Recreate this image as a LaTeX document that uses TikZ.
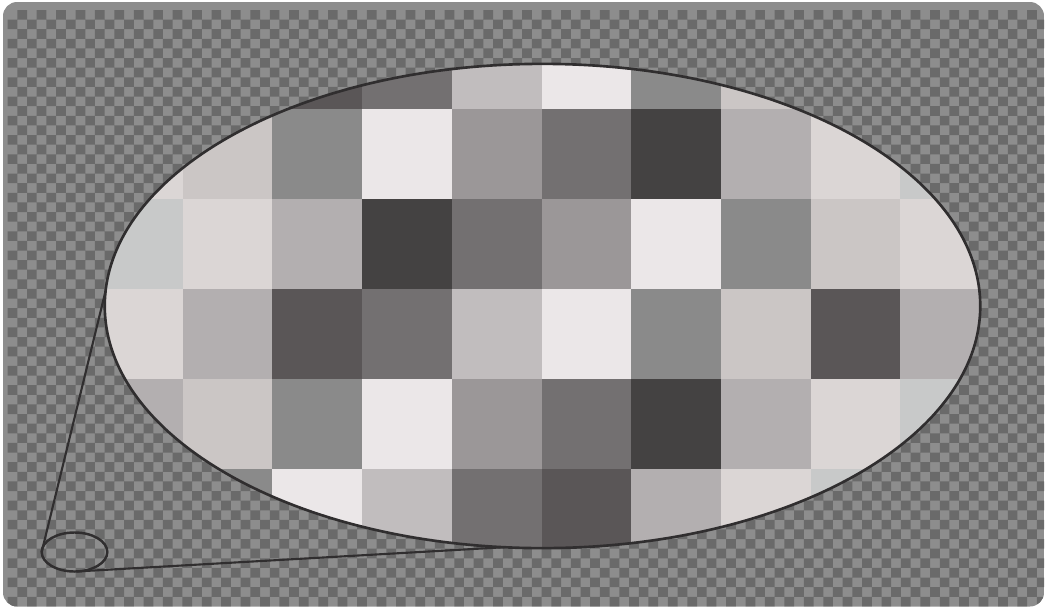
\documentclass[tikz,border=0pt]{standalone}
\usetikzlibrary{shapes.geometric}

\definecolor{checkdark}{HTML}{6A6A6A}
\definecolor{checklight}{HTML}{8D8D8D}
\definecolor{ringgray}{HTML}{302E2F}
\definecolor{px1}{HTML}{EBE7E8}
\definecolor{px2}{HTML}{DBD6D5}
\definecolor{px3}{HTML}{CBC6C5}
\definecolor{px4}{HTML}{C1BDBE}
\definecolor{px5}{HTML}{B3AFB0}
\definecolor{px6}{HTML}{9B9798}
\definecolor{px7}{HTML}{8A8A8A}
\definecolor{px8}{HTML}{737071}
\definecolor{px9}{HTML}{5A5657}
\definecolor{px10}{HTML}{444242}
\definecolor{pxb}{HTML}{C8C9C9}

\begin{document}
\begin{tikzpicture}[x=0.01cm,y=-0.01cm,
    lensring/.style={ellipse,draw=ringgray,line width=0.75pt,inner sep=0pt,outer sep=0pt,
      minimum width=8.75cm,minimum height=4.84cm},
    spotring/.style={ellipse,draw=ringgray,line width=0.7pt,inner sep=0pt,outer sep=0pt,
      minimum width=0.656cm,minimum height=0.39cm},
    zoomline/.style={draw=ringgray,line width=0.6pt}
]
\useasboundingbox (0,0) rectangle (1046,609);

\begin{scope}
  \clip[rounded corners=4pt] (3,2) rectangle (1044,606.5);
  \fill[checklight] (3,2) rectangle (1044,606.5);
  \fill[checkdark] \foreach \j in {0,...,61} { \foreach \i in {0,...,53} {
    ({7.6+(2*\i+mod(\j+1,2))*9.71},{10+\j*9.62}) rectangle ++(9.71,9.62) } };
\end{scope}

\begin{scope}
  \clip (542.5,306) ellipse [x radius=437.5, y radius=242];
  \foreach \pixrow [count=\j from 0] in {
      {px2,px2,px9,px8,px4,px1,px7,px3,px2,px2},
      {px2,px3,px7,px1,px6,px8,px10,px5,px2,pxb},
      {pxb,px2,px5,px10,px8,px6,px1,px7,px3,px2},
      {px2,px5,px9,px8,px4,px1,px7,px3,px9,px5},
      {px5,px3,px7,px1,px6,px8,px10,px5,px2,pxb},
      {px5,px7,px1,px4,px8,px9,px5,px2,pxb,pxb}} {
    \foreach \c [count=\i from 0] in \pixrow
      \fill[\c] ({93+\i*89.7},{19.3+\j*89.95}) rectangle ++(90.2,90.4);
  }
\end{scope}

\node[lensring] (lens) at (542.5,306) {};
\node[spotring] (spot) at (74.5,552) {};

\draw[zoomline] (spot.west) -- (lens.178.7);
\draw[zoomline] (spot.276.7) -- (lens.261.2);

\end{tikzpicture}
\end{document}
